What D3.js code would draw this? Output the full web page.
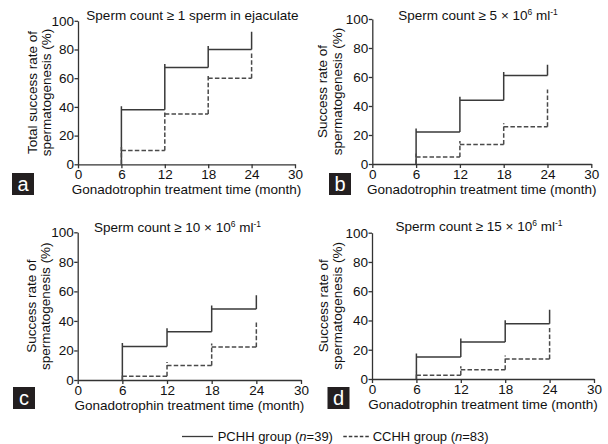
<!DOCTYPE html>
<html><head><meta charset="utf-8">
<script src="https://cdn.jsdelivr.net/npm/d3@7"></script>
<style>
body{margin:0;background:#fff}
svg{display:block;font-family:"Liberation Sans",Arial,sans-serif}
</style></head>
<body><svg id="c" width="608" height="444"></svg>
<script>
const times = [6, 12, 18, 24];
const xTicks = [0, 6, 12, 18, 24, 30];
const yTicks = [0, 20, 40, 60, 80, 100];
const panelLetters = ["a", "b", "c", "d"];
const yLabels = [
  ["Total success rate of", "spermatogenesis (%)"],
  ["Success rate of", "spermatogenesis (%)"],
  ["Success rate of", "spermatogenesis (%)"],
  ["Success rate of", "spermatogenesis (%)"]
];
const xLabel = "Gonadotrophin treatment time (month)";
// PCHH (solid) and CCHH (dashed) cumulative success rates (%) at 6,12,18,24 months
const pchh = [
  [38, 67.5, 80, 90],
  [22, 44, 61, 66],
  [22.7, 32.7, 48, 55],
  [15, 25.3, 37.8, 45]
];
const cchh = [
  [9.6, 35, 60, 76],
  [4.9, 13.5, 25.7, 49],
  [2.5, 9.8, 22.3, 37],
  [2.6, 6.3, 13.6, 32.5]
];
const legendLabels = ["PCHH group (", "n", "=39)", "CCHH group (", "n", "=83)"];

const frames = [
  {x0:78, x1:295, y0:164.3, y1:20.8, titleX:192.5, titleY:20, lab:[36.7,50.7], box:[12,173]},
  {x0:372.3, x1:591.3, y0:164, y1:19, titleX:478, titleY:20, lab:[327.3,341.5], box:[329,173]},
  {x0:77.7, x1:301, y0:380, y1:232.3, titleX:177.5, titleY:231.5, lab:[36.2,50.3], box:[13,387]},
  {x0:372, x1:594, y0:379, y1:232.7, titleX:479, titleY:230.5, lab:[327.6,341.6], box:[327.5,387]}
];
const titles = [
  [{t:"Sperm count \u2265 1 sperm in ejaculate"}],
  [{t:"Sperm count \u2265 5 \u00d7 10"},{t:"6",sup:true},{t:" ml"},{t:"-1",sup:true}],
  [{t:"Sperm count \u2265 10 \u00d7 10"},{t:"6",sup:true},{t:" ml"},{t:"-1",sup:true}],
  [{t:"Sperm count \u2265 15 \u00d7 10"},{t:"6",sup:true},{t:" ml"},{t:"-1",sup:true}]
];

const svg = d3.select("#c");
const lineCol = "#3a3a3a";
const tickPx = 3.5;
const fs = 13.5;

frames.forEach((f, i) => {
  const x = d3.scaleLinear().domain([0, 30]).range([f.x0, f.x1]);
  const y = d3.scaleLinear().domain([0, 100]).range([f.y0, f.y1]);
  const g = svg.append("g");

  const xa = g.append("g").attr("transform", `translate(0,${f.y0})`)
    .call(d3.axisBottom(x).tickValues(xTicks).tickSize(4).tickPadding(1.5).tickSizeOuter(0));
  const ya = g.append("g").attr("transform", `translate(${f.x0},0)`)
    .call(d3.axisLeft(y).tickValues(yTicks).tickSize(3.5).tickPadding(0.5).tickSizeOuter(0));
  [xa, ya].forEach(a => {
    a.selectAll("path,line").attr("stroke", "#333").attr("stroke-width", 1.3);
    a.selectAll("text").attr("font-size", fs).attr("fill", "#111")
      .attr("font-family", '"Liberation Sans",Arial,sans-serif');
  });

  // step curves
  [[pchh[i], null], [cchh[i], "4.5,2.2"]].forEach(([vals, dash]) => {
    let d = "";
    let prev = 0;
    vals.forEach((v, k) => {
      const tx = x(times[k]);
      d += `M${tx},${y(prev)}V${y(v) - tickPx}`;
      if (k < vals.length - 1) d += `M${tx},${y(v)}H${x(times[k + 1])}`;
      prev = v;
    });
    g.append("path").attr("d", d).attr("fill", "none")
      .attr("stroke", dash ? "#4a4a4a" : lineCol).attr("stroke-width", 1.5)
      .attr("stroke-dasharray", dash);
  });

  // title
  const tt = g.append("text").attr("x", f.titleX).attr("y", f.titleY)
    .attr("text-anchor", "middle").attr("font-size", fs).attr("fill", "#111");
  titles[i].forEach(p => {
    const s = tt.append("tspan").text(p.t);
    if (p.sup) s.attr("font-size", 8.5).attr("baseline-shift", "5.5");
  });

  // y label
  const cy = (f.y0 + f.y1) / 2;
  yLabels[i].forEach((l, k) => {
    g.append("text").attr("transform", `translate(${f.lab[k]},${cy}) rotate(-90)`)
      .attr("text-anchor", "middle").attr("font-size", fs).attr("fill", "#111").text(l);
  });

  // x label
  g.append("text").attr("x", (f.x0 + f.x1) / 2).attr("y", f.y0 + 30)
    .attr("text-anchor", "middle").attr("font-size", fs).attr("fill", "#111").text(xLabel);

  // panel letter
  g.append("rect").attr("x", f.box[0]).attr("y", f.box[1]).attr("width", 22).attr("height", 22)
    .attr("fill", "#231f20");
  g.append("text").attr("x", f.box[0] + 11).attr("y", f.box[1] + 17.5)
    .attr("text-anchor", "middle").attr("font-size", 20).attr("fill", "#fff")
    .text(panelLetters[i]);
});

// legend
const ly = 436.5;
const lg = svg.append("g");
lg.append("line").attr("x1", 182).attr("x2", 213).attr("y1", ly).attr("y2", ly)
  .attr("stroke", lineCol).attr("stroke-width", 1.3);
lg.append("line").attr("x1", 343.3).attr("x2", 369).attr("y1", ly).attr("y2", ly)
  .attr("stroke", lineCol).attr("stroke-width", 1.3).attr("stroke-dasharray", "3.5,2");
[[217.7, 0], [372.7, 3]].forEach(([lx, o]) => {
  const t = lg.append("text").attr("x", lx).attr("y", ly + 4.7).attr("font-size", 13).attr("fill", "#111");
  t.append("tspan").text(legendLabels[o]);
  t.append("tspan").attr("font-style", "italic").text(legendLabels[o + 1]);
  t.append("tspan").text(legendLabels[o + 2]);
});
</script></body></html>
